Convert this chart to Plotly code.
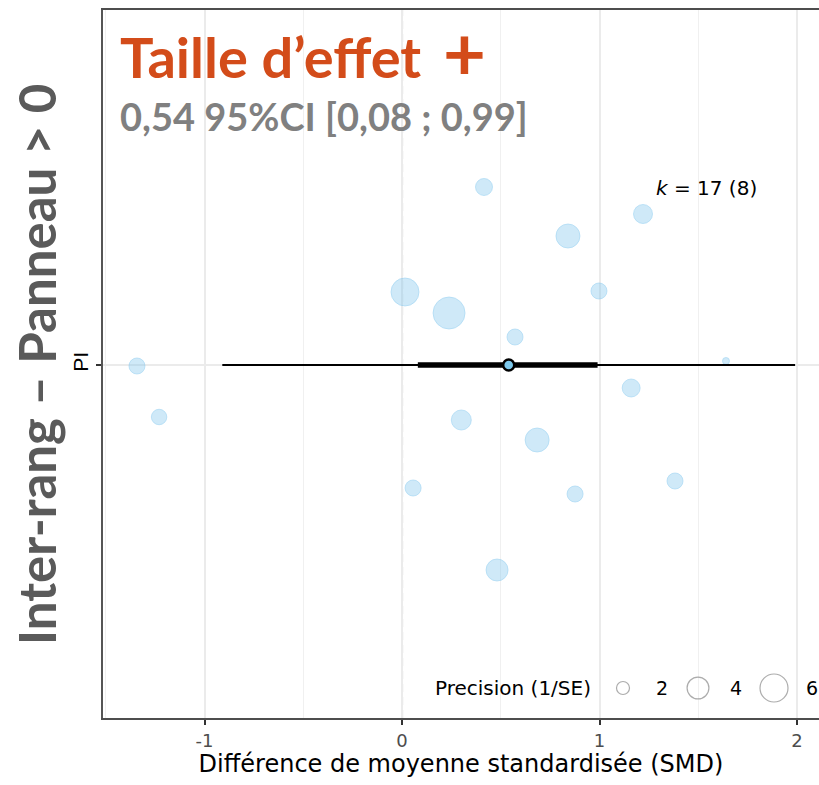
import plotly.graph_objects as go
import numpy as np

# ---- data ----
smd = [0.415, 1.22, 0.84, 0.015, 0.997, 0.238, 0.572, -1.342, 1.64, 1.16,
       -1.23, 0.30, 0.684, 0.056, 0.876, 1.382, 0.481]
jitter = [1.78, 1.51, 1.29, 0.73, 0.74, 0.52, 0.28, -0.01, 0.04, -0.23,
          -0.52, -0.55, -0.75, -1.23, -1.29, -1.16, -2.05]
precision = [2.78, 3.25, 4.65, 5.99, 2.57, 7.56, 2.57, 2.57, 1.22, 3.0,
             2.45, 3.5, 4.65, 2.57, 2.57, 2.57, 4.05]
estimate = 0.54
ci = [0.08, 0.99]
pi = [-0.91, 1.99]
group_label = "PI"
legend_prec = [2, 4, 6]
x_ticks = [-1, 0, 1, 2]


def size_px(p):
    return float(np.sqrt(max(153.75 * p - 138.5, 4.0)))


W, H = 819, 785
L, R, T, B = 103, 0, 10, 67
pw, ph = W - L - R, H - T - B


def px2paper(x, y):
    return (x - L) / pw, (H - B - y) / ph


fig = go.Figure()

# individual effect sizes
fig.add_trace(go.Scatter(
    x=smd, y=jitter, mode="markers",
    marker=dict(size=[size_px(p) for p in precision],
                color="rgba(120,195,238,0.5)",
                line=dict(color="rgba(120,195,238,0.6)", width=1)),
    hoverinfo="skip", showlegend=False))

# prediction interval
fig.add_trace(go.Scatter(x=pi, y=[0, 0], mode="lines",
                         line=dict(color="black", width=1.8),
                         showlegend=False, hoverinfo="skip"))
# confidence interval
fig.add_trace(go.Scatter(x=ci, y=[0, 0], mode="lines",
                         line=dict(color="black", width=5.5),
                         showlegend=False, hoverinfo="skip"))
# estimate
fig.add_trace(go.Scatter(x=[estimate], y=[0], mode="markers",
                         marker=dict(size=11, color="#7cc8ec",
                                     line=dict(color="black", width=2.4)),
                         showlegend=False, hoverinfo="skip"))

# legend (overlay axes in paper space)
leg_x = [623, 698, 774]
leg_lab_x = [662, 736, 812]
leg_y = 688
lx = [px2paper(x, leg_y)[0] for x in leg_x]
ly = [px2paper(x, leg_y)[1] for x in leg_x]
fig.add_trace(go.Scatter(
    x=lx, y=ly, mode="markers", xaxis="x2", yaxis="y2",
    marker=dict(size=[size_px(p) for p in legend_prec], color="rgba(0,0,0,0)",
                line=dict(color="#8a8a8a", width=1.2)),
    showlegend=False, hoverinfo="skip"))

ann = []
for p, x in zip(legend_prec, leg_lab_x):
    ax, ay = px2paper(x, leg_y)
    ann.append(dict(x=ax, y=ay, xref="paper", yref="paper", text=str(p),
                    showarrow=False, xanchor="center", yanchor="middle",
                    font=dict(family="DejaVu Sans", size=19, color="black")))
ax, ay = px2paper(513, leg_y)
ann.append(dict(x=ax, y=ay, xref="paper", yref="paper", text="Precision (1/SE)",
                showarrow=False, xanchor="center", yanchor="middle",
                font=dict(family="DejaVu Sans", size=20, color="black")))

# k label
ax, ay = px2paper(706, 188)
ann.append(dict(x=ax, y=ay, xref="paper", yref="paper",
                text="<i>k</i> = 17 (8)", showarrow=False,
                xanchor="center", yanchor="middle",
                font=dict(family="DejaVu Sans", size=20, color="black")))

# titles
ax, ay = px2paper(118, 57)
ann.append(dict(x=ax, y=ay, xref="paper", yref="paper",
                text="<b>Taille d’effet</b>", showarrow=False,
                xanchor="left", yanchor="middle",
                font=dict(family="Lato", size=56, color="#D34C1A")))
ax, ay = px2paper(464, 52)
ann.append(dict(x=ax, y=ay, xref="paper", yref="paper",
                text="<b>+</b>", showarrow=False,
                xanchor="center", yanchor="middle",
                font=dict(family="Lato", size=74, color="#D34C1A")))
ax, ay = px2paper(118, 116)
ann.append(dict(x=ax, y=ay, xref="paper", yref="paper",
                text="<b>0,54 95%CI [0,08 ; 0,99]</b>", showarrow=False,
                xanchor="left", yanchor="middle",
                font=dict(family="Lato", size=38, color="#808080")))
ax, ay = px2paper(36, 365)
ann.append(dict(x=ax, y=ay, xref="paper", yref="paper",
                text="<b>Inter-rang – Panneau > 0</b>", showarrow=False,
                textangle=-90, xanchor="center", yanchor="middle",
                font=dict(family="Lato", size=51, color="#5a5a5a")))

fig.update_layout(
    width=W, height=H,
    margin=dict(l=L, r=R, t=T, b=B, autoexpand=False),
    paper_bgcolor="white", plot_bgcolor="white",
    xaxis=dict(range=[-1.514, 2.111], tickvals=x_ticks,
               ticktext=[str(v) for v in x_ticks], automargin=False,
               showgrid=True, gridcolor="#ebebeb", gridwidth=1.5,
               minor=dict(tickvals=[-1.5, -0.5, 0.5, 1.5], showgrid=True,
                          gridcolor="#f0f0f0", gridwidth=1),
               zeroline=False, showline=True, linecolor="#4d4d4d",
               linewidth=1.8, mirror=True,
               ticks="outside", ticklen=5, tickwidth=1.8, tickcolor="#333333",
               tickfont=dict(family="DejaVu Sans", size=18, color="#4d4d4d"),
               title=dict(text="Différence de moyenne standardisée (SMD)",
                          font=dict(family="DejaVu Sans", size=24,
                                    color="black"), standoff=3)),
    yaxis=dict(range=[-3.53, 3.55], tickvals=[0], ticktext=[group_label],
               tickangle=-90, automargin=False,
               showgrid=True, gridcolor="#ebebeb", gridwidth=1.5,
               zeroline=False, showline=True, linecolor="#555555",
               linewidth=1.8, mirror=False,
               ticks="outside", ticklen=5, tickwidth=1.8, tickcolor="#333333",
               tickfont=dict(family="Liberation Sans", size=21, color="black")),
    xaxis2=dict(range=[0, 1], overlaying="x", visible=False),
    yaxis2=dict(range=[0, 1], overlaying="y", visible=False),
    shapes=[dict(type="line", x0=0, x1=0, xref="x", y0=0, y1=1, yref="paper",
                 line=dict(color="#707070", width=2, dash="8px,5px"),
                 layer="below")],
    annotations=ann,
)

fig.write_html(
    "out.html",
    config={"displayModeBar": False},
    post_script="document.body.style.margin='0';"
                "document.body.style.overflow='hidden';"
                "document.documentElement.style.overflow='hidden';")
